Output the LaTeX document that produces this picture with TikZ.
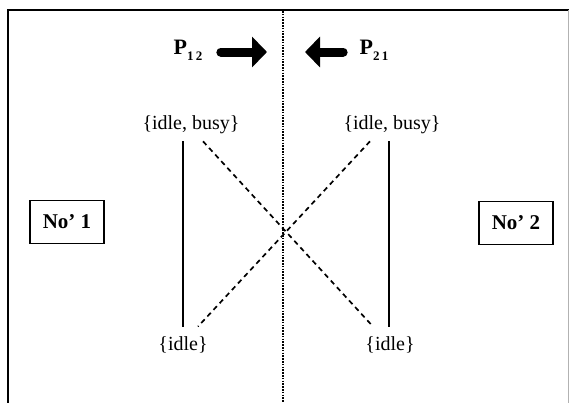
\documentclass[tikz,border=0pt]{standalone}
\usepackage{fontspec}
\setmainfont{Liberation Serif}
\usepackage{tikz}
\usetikzlibrary{arrows.meta,calc}

\begin{document}
\begin{tikzpicture}[x=1pt,y=-1pt,
  state/.style={font=\fontsize{20}{20}\selectfont,inner sep=1pt},
  nobox/.style={draw,line width=1.5pt,font=\fontsize{21}{21}\selectfont\bfseries,minimum width=74pt,minimum height=43pt,inner sep=0pt},
  fat/.style={line width=9pt,line cap=round,-{Triangle[length=15pt,width=30pt]}},
  plab/.style={font=\fontsize{22}{22}\selectfont\bfseries}]
 \useasboundingbox (0,0) rectangle (569,402);
 \draw[line width=1.5pt] (8,410) |- (569,10);
 \draw[line width=0.6pt,gray!60] (568.5,10)--(568.5,410);
 \draw[line width=2.2pt,dash pattern=on 1.5pt off 1.3pt] (283,11)--(283,402);
 \node[plab] (p12) at (188,50) {P\raisebox{-6pt}{\fontsize{13}{13}\selectfont 1\,2}};
 \node[plab] (p21) at (374,50) {P\raisebox{-6pt}{\fontsize{13}{13}\selectfont 2\,1}};
 \coordinate (m12) at (267,52);
 \coordinate (m21) at (305,52);
 \draw[fat] ($(p12.east)+(15,2)$)--(m12);
 \draw[fat] ($(p21.west)+(-13,2)$)--(m21);
 \node[state] (lib) at (191,125) {\{idle, busy\}};
 \node[state] (rib) at (392,125) {\{idle, busy\}};
 \node[state] (li) at (183,345) {\{idle\}};
 \node[state] (ri) at (390,345) {\{idle\}};
 \node[nobox] (n1) at (67,222) {No’ 1};
 \node[nobox] (n2) at (516,223) {No’ 2};
 \draw[line width=1.6pt] ($(lib.south -| li.north)+(0,6)$)--($(li.north)+(0,-9)$);
 \draw[line width=1.6pt] ($(rib.south -| ri.north)+(-1,6)$)--($(ri.north)+(-1,-9)$);
 \draw[line width=1.7pt,dash pattern=on 5pt off 4pt] ($(lib.south)+(12,6)$)--($(ri.north)+(-17,-9)$);
 \draw[line width=1.7pt,dash pattern=on 5pt off 4pt] ($(rib.south)+(-22,6)$)--($(li.north)+(15,-9)$);
\end{tikzpicture}
\end{document}
